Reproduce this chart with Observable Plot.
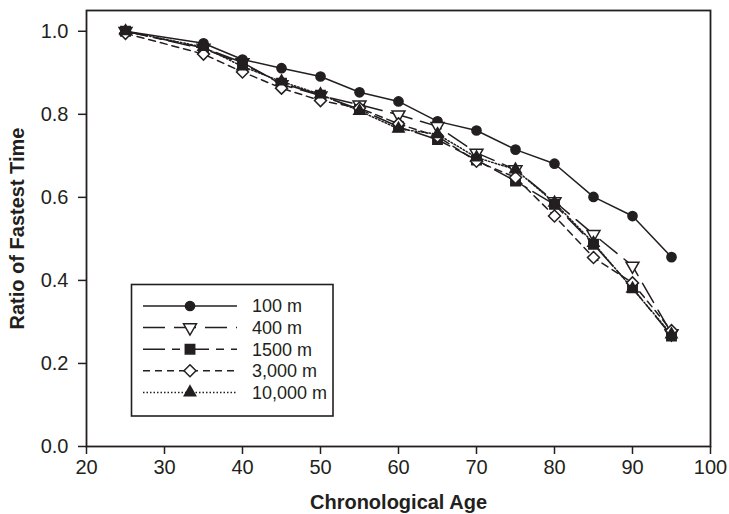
<!DOCTYPE html>
<html>
<head>
<meta charset="utf-8">
<script src="https://cdn.jsdelivr.net/npm/d3@7"></script>
<script src="https://cdn.jsdelivr.net/npm/@observablehq/plot@0.6"></script>
<style>
  html, body { margin: 0; padding: 0; background: #fff; }
  #chart { width: 729px; height: 514px; }
</style>
</head>
<body>
<div id="chart"></div>
<script>
const ages = [25, 35, 40, 45, 50, 55, 60, 65, 70, 75, 80, 85, 90, 95];
const m100   = [1.0, 0.971, 0.932, 0.911, 0.891, 0.853, 0.831, 0.783, 0.761, 0.715, 0.681, 0.601, 0.555, 0.456];
const m400   = [1.0, 0.960, 0.925, 0.872, 0.845, 0.823, 0.799, 0.771, 0.707, 0.667, 0.590, 0.511, 0.435, 0.272];
const m1500  = [1.0, 0.958, 0.922, 0.875, 0.846, 0.812, 0.770, 0.739, 0.690, 0.639, 0.583, 0.487, 0.382, 0.266];
const m3000  = [0.995, 0.945, 0.902, 0.863, 0.833, 0.815, 0.777, 0.747, 0.687, 0.648, 0.555, 0.455, 0.394, 0.279];
const m10000 = [1.0, 0.962, 0.915, 0.879, 0.848, 0.808, 0.765, 0.752, 0.696, 0.667, 0.587, 0.490, 0.380, 0.270];
const seriesNames = ["100 m", "400 m", "1500 m", "3,000 m", "10,000 m"];
const seriesValues = [m100, m400, m1500, m3000, m10000];
const xTicks = [20, 30, 40, 50, 60, 70, 80, 90, 100];
const yTicks = [0.0, 0.2, 0.4, 0.6, 0.8, 1.0];
const xTitle = "Chronological Age";
const yTitle = "Ratio of Fastest Time";

const ink = "#231f20";
const styles = [
  {symbol: "circle",   d3sym: d3.symbolCircle,   fill: ink,    r: 4.6, rotate: 0,   dash: null},
  {symbol: "triangle", d3sym: d3.symbolTriangle, fill: "#fff", r: 4.8, rotate: 180, dash: "22,9"},
  {symbol: "square",   d3sym: d3.symbolSquare,   fill: ink,    r: 5.3, rotate: 0,   dash: "22,7,8,7"},
  {symbol: "diamond2", d3sym: d3.symbolDiamond2, fill: "#fff", r: 5.4, rotate: 0,   dash: "7,5"},
  {symbol: "triangle", d3sym: d3.symbolTriangle, fill: ink,    r: 4.2, rotate: 0,   dash: "1.5,2"}
];

const rows = seriesNames.map((name, s) => ages.map((a, i) => ({age: a, v: seriesValues[s][i], name})));

const marks = [];
rows.forEach((data, s) => {
  const st = styles[s];
  marks.push(Plot.line(data, {x: "age", y: "v", stroke: ink, strokeWidth: 1.5,
    strokeDasharray: st.dash || undefined}));
});
rows.forEach((data, s) => {
  const st = styles[s];
  marks.push(Plot.dot(data, {x: "age", y: "v", symbol: st.symbol, r: st.r, rotate: st.rotate,
    fill: st.fill, stroke: ink, strokeWidth: 1.5}));
});

const plot = Plot.plot({
  width: 729,
  height: 514,
  marginLeft: 86,
  marginRight: 19,
  marginTop: 10,
  marginBottom: 68,
  style: {fontFamily: "'Liberation Sans', Arial, sans-serif", fontSize: "20px", color: ink, background: "#fff"},
  x: {domain: [20, 100]},
  y: {domain: [0, 1.05]},
  marks: [
    Plot.axisX({ticks: xTicks, tickSize: 8, tickPadding: 5, tickFormat: d => String(d), label: null,
      fontSize: 20, strokeWidth: 1.5, stroke: ink, fill: ink}),
    Plot.axisY({ticks: yTicks, tickSize: 8, tickPadding: 10, tickFormat: d3.format(".1f"), label: null,
      fontSize: 20, strokeWidth: 1.5, stroke: ink, fill: ink}),
    ...marks,
    Plot.frame({stroke: ink, strokeWidth: 1.8}),
    Plot.text([yTitle], {frameAnchor: "left", dx: -69, rotate: -90, text: d => d,
      fontWeight: "bold", fontSize: 20, fill: ink, textAnchor: "middle", lineAnchor: "middle"}),
    Plot.text([xTitle], {frameAnchor: "bottom", dy: 56, text: d => d,
      fontWeight: "bold", fontSize: 20, fill: ink, textAnchor: "middle", lineAnchor: "middle"})
  ]
});
document.getElementById("chart").appendChild(plot);

// Legend inside the plot area
const svg = d3.select(plot);
const lg = svg.append("g").attr("class", "legend").attr("text-anchor", "start");
lg.append("rect").attr("x", 131.5).attr("y", 284.5).attr("width", 201.5).attr("height", 131.5)
  .attr("fill", "#fff").attr("stroke", ink).attr("stroke-width", 1.6);
seriesNames.forEach((name, i) => {
  const st = styles[i];
  const y = 306 + i * 21.6;
  lg.append("line").attr("x1", 143).attr("x2", 237).attr("y1", y).attr("y2", y)
    .attr("stroke", ink).attr("stroke-width", 1.5)
    .attr("stroke-dasharray", st.dash || null);
  lg.append("path").attr("d", d3.symbol(st.d3sym, Math.PI * st.r * st.r)())
    .attr("transform", `translate(190,${y}) rotate(${st.rotate})`)
    .attr("fill", st.fill).attr("stroke", ink).attr("stroke-width", 1.5);
  lg.append("text").attr("x", 252).attr("y", y).attr("dy", "0.35em")
    .attr("text-anchor", "start")
    .attr("font-size", 18).attr("fill", ink).text(name);
});
</script>
</body>
</html>
